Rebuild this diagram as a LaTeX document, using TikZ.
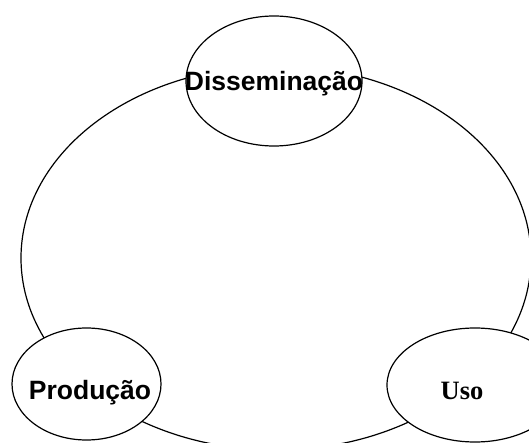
\documentclass[tikz,border=0pt]{standalone}
\usepackage{fontspec}
\setmainfont{Liberation Sans}
\newfontfamily\serifbold{Liberation Serif}
\usetikzlibrary{shapes.geometric}
\tikzset{
  x=1pt, y=1pt,
  ring/.style={draw=black, line width=1.2pt},
  bubble/.style={ellipse, draw=black, fill=white, line width=1.2pt, inner sep=0pt},
  lab/.style={anchor=base, inner sep=0pt, font=\fontsize{26.5}{30}\selectfont\bfseries}
}
\begin{document}
\begin{tikzpicture}
\useasboundingbox (0,0) rectangle (529,442);
\clip (0,0) rectangle (529,442);
\fill[white] (0,0) rectangle (529,442);
\node[ellipse, ring, minimum width=510pt, minimum height=384pt, inner sep=0pt] (cycle) at (276,184) {};
\node[bubble, minimum width=176pt, minimum height=130pt] (d) at (274,361) {};
\node[bubble, minimum width=149pt, minimum height=112pt] (p) at (86.5,58) {};
\node[bubble, minimum width=176pt, minimum height=114pt] (u) at (475,57) {};
\node[lab] (dt) at (274,351) {Disseminação};
\node[lab] (pt) at (90,43) {Produção};
\node[lab, font=\fontsize{26.5}{30}\selectfont\serifbold\bfseries] (ut) at (462,43) {Uso};
\end{tikzpicture}
\end{document}
